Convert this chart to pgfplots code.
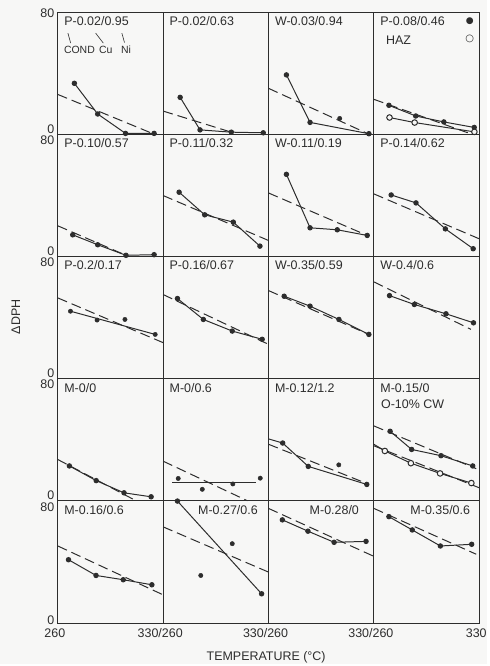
\documentclass[border=0pt]{standalone}
\usepackage{fontspec}
\setmainfont{Liberation Sans}
\newfontfamily\symfont{DejaVu Sans}
\usepackage{pgfplots}
\pgfplotsset{compat=1.18}
\usepgfplotslibrary{groupplots}
\usetikzlibrary{backgrounds}
\definecolor{ink}{RGB}{45,45,45}
\definecolor{paper}{RGB}{247,247,246}

\pgfplotsset{
  pts/.style={ink, line width=1pt, mark=*, mark size=2.2pt, mark options={solid, fill=ink}},
  dot/.style={ink, only marks, mark=*, mark size=2.2pt, mark options={fill=ink}},
  trend/.style={ink, line width=1pt, dash pattern=on 10pt off 5pt, no marks},
  plain/.style={ink, line width=1pt, no marks},
  hollow/.style={ink, line width=1pt, mark=*, mark size=2.8pt, mark options={solid, fill=paper, draw=ink}},
}
\newcommand{\ttl}[1]{\node[anchor=west, inner sep=0pt, text=ink, font=\fontsize{12.5}{14}\selectfont] at (rel axis cs:0.06,0.925) {#1};}
\newcommand{\ttr}[2]{\node[anchor=east, inner sep=0pt, text=ink, font=\fontsize{12.5}{14}\selectfont] at (rel axis cs:#1,0.925) {#2};}

\begin{document}
\begin{tikzpicture}
\begin{groupplot}[
  group style={group name=G, group size=4 by 5, horizontal sep=0pt, vertical sep=0pt,
    xticklabels at=edge bottom, yticklabels at=edge left},
  scale only axis, width=105.7pt, height=122.6pt,
  xmin=260, xmax=330, ymin=0, ymax=80,
  xtick={260,330}, ytick={3.5,76}, yticklabels={0,80},
  major tick length=0pt,
  clip=false,
  axis line style={ink, line width=0.8pt},
  tick label style={font=\fontsize{12.5}{14}\selectfont, text=ink},
  xticklabel style={xshift=-3pt, yshift=-2pt},
  /pgf/number format/assume math mode=true,
]
% row 1
\nextgroupplot[ytick={3.5,79}]
\ttl{P-0.02/0.95}
\node[text=ink, font=\fontsize{10.5}{12}\selectfont, inner sep=0pt] at (rel axis cs:0.205,0.69) {COND};
\node[text=ink, font=\fontsize{10.5}{12}\selectfont, inner sep=0pt] at (rel axis cs:0.456,0.69) {Cu};
\node[text=ink, font=\fontsize{10.5}{12}\selectfont, inner sep=0pt] at (rel axis cs:0.648,0.69) {Ni};
\draw[ink, line width=0.6pt] (rel axis cs:0.096,0.827) -- (rel axis cs:0.122,0.745);
\draw[ink, line width=0.6pt] (rel axis cs:0.359,0.827) -- (rel axis cs:0.432,0.745);
\draw[ink, line width=0.6pt] (rel axis cs:0.608,0.827) -- (rel axis cs:0.633,0.75);
\addplot[trend] coordinates {(260,26) (324,0)};
\addplot[pts] coordinates {(271,33.3) (286.5,13.2) (305,0.5) (324,0.5)};

\nextgroupplot
\ttl{P-0.02/0.63}
\addplot[trend] coordinates {(260,15.1) (305.3,1.3)};
\addplot[pts] coordinates {(271.3,24.1) (284.5,2.8) (305.3,1.3) (326.5,0.9)};

\nextgroupplot
\ttl{W-0.03/0.94}
\addplot[trend] coordinates {(260,30) (326.7,0)};
\addplot[pts] coordinates {(271.9,38.8) (287.6,7.7) (326.7,0.3)};
\addplot[dot] coordinates {(307.3,10.3)};

\nextgroupplot
\ttl{P-0.08/0.46}
\node[anchor=west, inner sep=0pt, text=ink, font=\fontsize{12.5}{14}\selectfont] at (rel axis cs:0.114,0.77) {HAZ};
\node[inner sep=0pt, text=ink, font=\symfont\fontsize{9}{10}\selectfont] at (rel axis cs:0.911,0.921) {●};
\node[inner sep=0pt, text=ink, font=\symfont\fontsize{10}{10}\selectfont] at (rel axis cs:0.911,0.778) {○};
\addplot[trend] coordinates {(260,22.8) (325,0)};
\addplot[pts] coordinates {(270,18.9) (287.8,11.9) (306.5,8.0) (326.7,4.4)};
\addplot[hollow] coordinates {(270.4,10.9) (287.1,7.6) (326.8,1.5)};

% row 2
\nextgroupplot
\ttl{P-0.10/0.57}
\addplot[trend] coordinates {(260,20) (305.3,0.7)};
\addplot[pts] coordinates {(269.9,14.1) (286.5,7.6) (305.3,0.7) (324,1.1)};

\nextgroupplot
\ttl{P-0.11/0.32}
\addplot[trend] coordinates {(260,39.8) (330,10.4)};
\addplot[pts] coordinates {(270.6,42) (287.6,27.2) (306.6,22.4) (324.3,6.7)};

\nextgroupplot
\ttl{W-0.11/0.19}
\addplot[trend] coordinates {(260,41.5) (325.6,13.7)};
\addplot[pts] coordinates {(271.9,53.7) (287.6,18.7) (305.7,17.4) (325.6,13.7)};

\nextgroupplot
\ttl{P-0.14/0.62}
\addplot[trend] coordinates {(260,40.9) (330,11.5)};
\addplot[pts] coordinates {(271.5,40.2) (288,35) (307.5,18) (326,5)};

% row 3
\nextgroupplot
\ttl{P-0.2/0.17}
\addplot[trend] coordinates {(260,52.8) (330,23.5)};
\addplot[plain] coordinates {(268.4,44.1) (324.7,28.9)};
\addplot[dot] coordinates {(268.4,44.1) (286.1,38.3) (304.6,38.7) (324.7,28.9)};

\nextgroupplot
\ttl{P-0.16/0.67}
\addplot[trend] coordinates {(260,55) (330,22.4)};
\addplot[pts] coordinates {(269.5,52.4) (286.7,38.7) (305.9,31.1) (325.8,25.7)};

\nextgroupplot
\ttl{W-0.35/0.59}
\addplot[trend] coordinates {(260,57.6) (326.7,28.9)};
\addplot[pts] coordinates {(270.4,53.9) (287.6,47.4) (306.8,38.7) (326.7,28.9)};

\nextgroupplot
\ttl{W-0.4/0.6}
\addplot[trend] coordinates {(260,63.3) (324.5,32.2)};
\addplot[pts] coordinates {(270.4,54.3) (286.9,48.5) (307.9,42.4) (326.2,36.5)};

% row 4
\nextgroupplot
\ttl{M-0/0}
\addplot[trend] coordinates {(260,27) (312,0)};
\addplot[pts] coordinates {(267.7,22.8) (285.5,13.2) (304,5.2) (322,2.6)};

\nextgroupplot
\ttl{M-0/0.6}
\addplot[trend] coordinates {(260,25.9) (316,0)};
\addplot[plain] coordinates {(266,12.1) (321.5,12.1)};
\addplot[dot] coordinates {(270,14.6) (286,7.5) (306.3,11) (324.5,14.8)};

\nextgroupplot
\ttl{M-0.12/1.2}
\addplot[trend] coordinates {(260,37) (326,11)};
\addplot[plain] coordinates {(260,40.5) (269.4,37.8)};
\addplot[pts] coordinates {(269.4,37.8) (286.4,22.5) (325.3,10.7)};
\addplot[dot] coordinates {(306.7,23.5)};

\nextgroupplot
\ttl{M-0.15/0}
\node[anchor=west, inner sep=0pt, text=ink, font=\fontsize{12.5}{14}\selectfont] at (rel axis cs:0.067,0.79) {O-10\% CW};
\addplot[trend] coordinates {(260,49) (328,21)};
\addplot[trend] coordinates {(260,36) (330,8.5)};
\addplot[pts] coordinates {(270.8,45.5) (285.1,33.6) (304.6,29.5) (325.7,22.8)};
\addplot[plain] coordinates {(260,37) (267.3,32.6)};
\addplot[hollow] coordinates {(267.3,32.6) (284.6,24.6) (304,17.9) (324.8,11.6)};

% row 5
\nextgroupplot[ytick={2,76}, xticklabels={260,330/260}]
\ttl{M-0.16/0.6}
\addplot[trend] coordinates {(260,50.4) (330,18.4)};
\addplot[pts] coordinates {(267.1,41.4) (285.4,31.1) (303.5,28.3) (322.5,25)};

\nextgroupplot[xticklabels={,330/260}]
\ttr{0.9}{M-0.27/0.6}
\addplot[trend] coordinates {(260,62.9) (330,33.3)};
\addplot[pts] coordinates {(269.5,79.8) (325.4,19.1)};
\addplot[dot] coordinates {(285,31.1) (305.9,51.9)};

\nextgroupplot[xticklabels={,330/260}]
\ttr{0.86}{M-0.28/0}
\addplot[trend] coordinates {(260,75) (330,43.6)};
\addplot[pts] coordinates {(269.2,67.5) (286.2,60.1) (303.6,52.8) (324.8,53.4)};

\nextgroupplot[xticklabels={,330}]
\ttr{0.915}{M-0.35/0.6}
\addplot[trend] coordinates {(260,75) (328,45)};
\addplot[pts] coordinates {(270,69.6) (285.5,60.9) (304.2,50.4) (325,51.5)};
\end{groupplot}

\path (G c1r1.north west) ++(209pt,-647pt) node[text=ink, font=\fontsize{12.5}{14}\selectfont] {TEMPERATURE (°C)};
\path (G c1r1.north west) ++(-42pt,-306pt) node[rotate=90, text=ink, font=\fontsize{12.5}{14}\selectfont] {ΔDPH};
\begin{pgfonlayer}{background}
\fill[paper] (G c1r1.north west) ++(-58pt,12pt) rectangle ++(489pt,-666pt);
\end{pgfonlayer}
\end{tikzpicture}
\end{document}
